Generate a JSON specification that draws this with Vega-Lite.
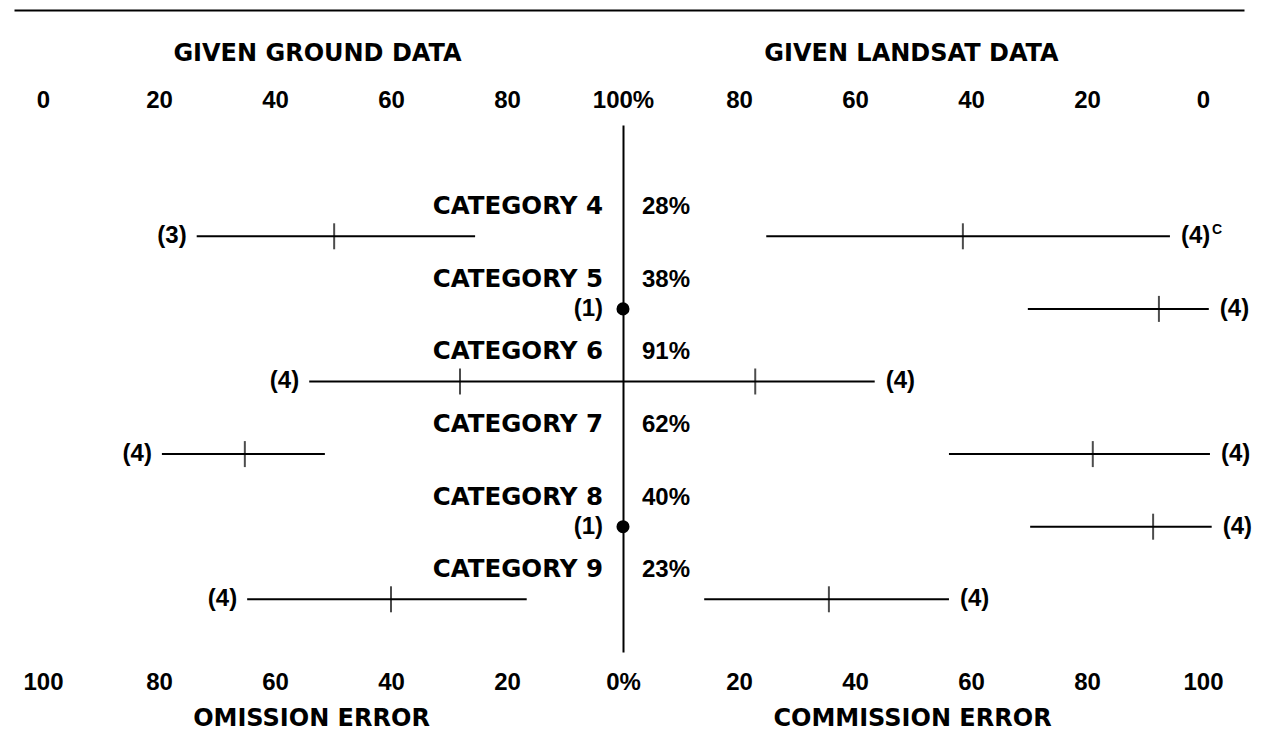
{
  "$schema": "https://vega.github.io/schema/vega-lite/v6.json",
  "width": 1266,
  "height": 750,
  "autosize": {"type": "none"},
  "padding": 0,
  "background": "white",
  "config": {
    "view": {"stroke": null},
    "font": "Liberation Sans",
    "axis": {
      "labelFont": "Liberation Sans", "titleFont": "DejaVu Sans",
      "labelFontSize": 24, "labelFontWeight": "bold", "labelColor": "black",
      "titleFontSize": 24, "titleFontWeight": "bold", "titleColor": "black",
      "grid": false, "ticks": false, "tickSize": 0, "domain": false,
      "labelOverlap": false, "labelBound": false, "labelFlush": false
    },
    "text": {"font": "Liberation Sans", "fontWeight": "bold", "fontSize": 24, "color": "black", "baseline": "middle"}
  },
  "datasets": {
    "ranges": [
      {"id": 4, "category": "CATEGORY 4", "kind": "omission", "low": 25.5, "high": 73.5, "mean": 49.8, "sites": "(3)", "note": ""},
      {"id": 4, "category": "CATEGORY 4", "kind": "commission", "low": 24.7, "high": 94.3, "mean": 58.6, "sites": "(4)", "note": "C"},
      {"id": 5, "category": "CATEGORY 5", "kind": "omission", "low": 0, "high": 0, "mean": 0, "sites": "(1)", "note": ""},
      {"id": 5, "category": "CATEGORY 5", "kind": "commission", "low": 69.8, "high": 101.0, "mean": 92.4, "sites": "(4)", "note": ""},
      {"id": 6, "category": "CATEGORY 6", "kind": "omission", "low": 0, "high": 54.1, "mean": 28.1, "sites": "(4)", "note": ""},
      {"id": 6, "category": "CATEGORY 6", "kind": "commission", "low": 0, "high": 43.4, "mean": 22.8, "sites": "(4)", "note": ""},
      {"id": 7, "category": "CATEGORY 7", "kind": "omission", "low": 51.4, "high": 79.5, "mean": 65.2, "sites": "(4)", "note": ""},
      {"id": 7, "category": "CATEGORY 7", "kind": "commission", "low": 56.2, "high": 101.2, "mean": 81.0, "sites": "(4)", "note": ""},
      {"id": 8, "category": "CATEGORY 8", "kind": "omission", "low": 0, "high": 0, "mean": 0, "sites": "(1)", "note": ""},
      {"id": 8, "category": "CATEGORY 8", "kind": "commission", "low": 70.2, "high": 101.5, "mean": 91.4, "sites": "(4)", "note": ""},
      {"id": 9, "category": "CATEGORY 9", "kind": "omission", "low": 16.6, "high": 64.8, "mean": 40.0, "sites": "(4)", "note": ""},
      {"id": 9, "category": "CATEGORY 9", "kind": "commission", "low": 14.0, "high": 56.2, "mean": 35.5, "sites": "(4)", "note": ""}
    ],
    "categories": [
      {"id": 4, "category": "CATEGORY 4", "overall": 0.28},
      {"id": 5, "category": "CATEGORY 5", "overall": 0.38},
      {"id": 6, "category": "CATEGORY 6", "overall": 0.91},
      {"id": 7, "category": "CATEGORY 7", "overall": 0.62},
      {"id": 8, "category": "CATEGORY 8", "overall": 0.40},
      {"id": 9, "category": "CATEGORY 9", "overall": 0.23}
    ]
  },
  "layer": [
    {
      "resolve": {"axis": {"x": "independent"}},
      "layer": [
        {
          "data": {"name": "ranges"},
          "transform": [{"filter": "datum.kind == 'omission' && datum.high > datum.low"}],
          "mark": {"type": "rule", "strokeWidth": 2, "color": "black"},
          "encoding": {
            "x": {"field": "low", "type": "quantitative",
              "scale": {"domain": [-107.07, 105], "range": [1244, 14], "nice": false, "zero": false},
              "axis": {"orient": "bottom", "offset": -68, "values": [0, 20, 40, 60, 80, 100],
                "labelExpr": "datum.value == 0 ? '0%' : datum.label",
                "labelPadding": 0, "labelBaseline": "middle",
                "title": "OMISSION ERROR", "titleX": 311, "titleY": 36, "titleBaseline": "middle", "titleAlign": "center", "titleAnchor": null}},
            "x2": {"field": "high"},
            "y": {"field": "id", "type": "quantitative",
              "scale": {"domain": [2.467, 9.726], "range": [125, 652], "nice": false, "zero": false},
              "axis": {"orient": "left", "offset": -623, "domain": true, "domainColor": "black", "domainWidth": 2, "labels": false, "ticks": false, "grid": false, "title": null}}
          }
        },
        {
          "data": {"name": "ranges"},
          "transform": [{"filter": "datum.kind == 'omission' && datum.high > datum.low"}],
          "mark": {"type": "tick", "orient": "vertical", "size": 26, "thickness": 2, "color": "black"},
          "encoding": {
            "x": {"field": "mean", "type": "quantitative",
              "scale": {"domain": [-107.07, 105], "range": [1244, 14], "nice": false, "zero": false},
              "axis": {"orient": "top", "offset": -10, "values": [0, 20, 40, 60, 80, 100],
                "domain": true, "domainColor": "black", "domainWidth": 2,
                "labelExpr": "datum.value == 0 ? '100%' : format(100 - datum.value, 'd')",
                "labelPadding": -90, "labelBaseline": "middle",
                "title": "GIVEN GROUND DATA", "titleX": 317, "titleY": 43, "titleBaseline": "middle", "titleAlign": "center", "titleAnchor": null}},
            "y": {"field": "id", "type": "quantitative"}
          }
        },
        {
          "data": {"name": "ranges"},
          "transform": [{"filter": "datum.kind == 'omission' && datum.high == datum.low"}],
          "mark": {"type": "point", "filled": true, "size": 170, "color": "black", "opacity": 1},
          "encoding": {
            "x": {"field": "mean", "type": "quantitative", "axis": null,
              "scale": {"domain": [-107.07, 105], "range": [1244, 14], "nice": false, "zero": false}},
            "y": {"field": "id", "type": "quantitative"}
          }
        },
        {
          "data": {"name": "ranges"},
          "transform": [{"filter": "datum.kind == 'omission' && datum.high > datum.low"}],
          "mark": {"type": "text", "align": "right", "dx": -10},
          "encoding": {
            "x": {"field": "high", "type": "quantitative", "axis": null,
              "scale": {"domain": [-107.07, 105], "range": [1244, 14], "nice": false, "zero": false}},
            "y": {"field": "id", "type": "quantitative"},
            "text": {"field": "sites"}
          }
        },
        {
          "data": {"name": "ranges"},
          "transform": [{"filter": "datum.kind == 'omission' && datum.high == datum.low"}],
          "mark": {"type": "text", "align": "right", "dx": -20},
          "encoding": {
            "x": {"field": "high", "type": "quantitative", "axis": null,
              "scale": {"domain": [-107.07, 105], "range": [1244, 14], "nice": false, "zero": false}},
            "y": {"field": "id", "type": "quantitative"},
            "text": {"field": "sites"}
          }
        },
        {
          "data": {"name": "categories"},
          "mark": {"type": "text", "align": "right", "dx": -20, "dy": -29, "font": "DejaVu Sans", "fontSize": 24.5},
          "encoding": {
            "x": {"datum": 0, "type": "quantitative", "axis": null,
              "scale": {"domain": [-107.07, 105], "range": [1244, 14], "nice": false, "zero": false}},
            "y": {"field": "id", "type": "quantitative"},
            "text": {"field": "category"}
          }
        }
      ]
    },
    {
      "resolve": {"axis": {"x": "independent"}},
      "layer": [
        {
          "data": {"name": "ranges"},
          "transform": [{"filter": "datum.kind == 'commission'"}],
          "mark": {"type": "rule", "strokeWidth": 2, "color": "black"},
          "encoding": {
            "x": {"field": "low", "type": "quantitative",
              "scale": {"domain": [-105, 107.07], "range": [14, 1244], "nice": false, "zero": false},
              "axis": {"orient": "bottom", "offset": -68, "values": [20, 40, 60, 80, 100],
                "labelPadding": 0, "labelBaseline": "middle",
                "title": "COMMISSION ERROR", "titleX": 912, "titleY": 36, "titleBaseline": "middle", "titleAlign": "center", "titleAnchor": null}},
            "x2": {"field": "high"},
            "y": {"field": "id", "type": "quantitative"}
          }
        },
        {
          "data": {"name": "ranges"},
          "transform": [{"filter": "datum.kind == 'commission'"}],
          "mark": {"type": "tick", "orient": "vertical", "size": 26, "thickness": 2, "color": "black"},
          "encoding": {
            "x": {"field": "mean", "type": "quantitative",
              "scale": {"domain": [-105, 107.07], "range": [14, 1244], "nice": false, "zero": false},
              "axis": {"orient": "top", "offset": -10, "values": [20, 40, 60, 80, 100],
                "labelExpr": "format(100 - datum.value, 'd')",
                "labelPadding": -90, "labelBaseline": "middle",
                "title": "GIVEN LANDSAT DATA", "titleX": 911, "titleY": 43, "titleBaseline": "middle", "titleAlign": "center", "titleAnchor": null}},
            "y": {"field": "id", "type": "quantitative"}
          }
        },
        {
          "data": {"name": "ranges"},
          "transform": [{"filter": "datum.kind == 'commission'"}],
          "mark": {"type": "text", "align": "left", "dx": 11},
          "encoding": {
            "x": {"field": "high", "type": "quantitative", "axis": null,
              "scale": {"domain": [-105, 107.07], "range": [14, 1244], "nice": false, "zero": false}},
            "y": {"field": "id", "type": "quantitative"},
            "text": {"field": "sites"}
          }
        },
        {
          "data": {"name": "ranges"},
          "transform": [{"filter": "datum.note != ''"}],
          "mark": {"type": "text", "align": "left", "dx": 42, "dy": -6, "fontSize": 14},
          "encoding": {
            "x": {"field": "high", "type": "quantitative", "axis": null,
              "scale": {"domain": [-105, 107.07], "range": [14, 1244], "nice": false, "zero": false}},
            "y": {"field": "id", "type": "quantitative"},
            "text": {"field": "note"}
          }
        },
        {
          "data": {"name": "categories"},
          "mark": {"type": "text", "align": "left", "dx": 19, "dy": -29},
          "encoding": {
            "x": {"datum": 0, "type": "quantitative", "axis": null,
              "scale": {"domain": [-105, 107.07], "range": [14, 1244], "nice": false, "zero": false}},
            "y": {"field": "id", "type": "quantitative"},
            "text": {"field": "overall", "type": "quantitative", "format": ".0%"}
          }
        }
      ]
    }
  ],
  "resolve": {"scale": {"x": "independent"}, "axis": {"x": "independent"}}
}
